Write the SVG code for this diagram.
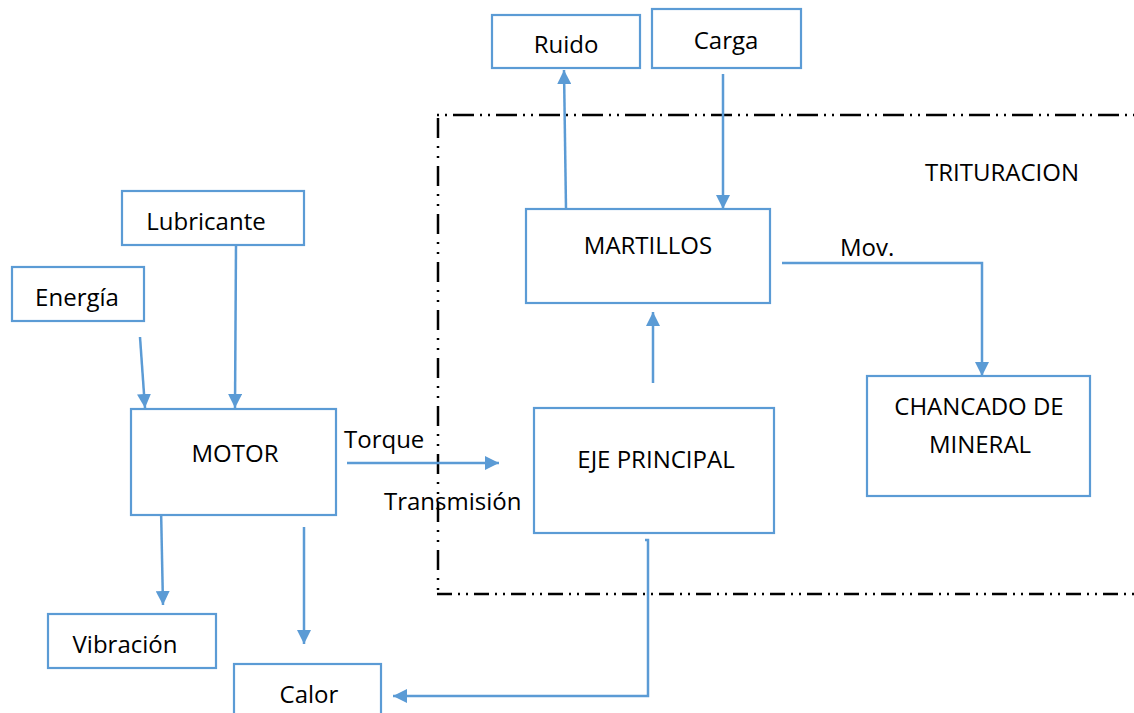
<svg xmlns="http://www.w3.org/2000/svg" width="1134" height="713" viewBox="0 0 1134 713">
  <style>
    .box { fill: #ffffff; stroke: #5B9BD5; stroke-width: 2.2; }
    .lbl { font-family: "Open Sans", "Liberation Sans", Arial, sans-serif; font-size: 24px; fill: #000000; text-anchor: middle; }
    .free { font-family: "Open Sans", "Liberation Sans", Arial, sans-serif; font-size: 24px; fill: #000000; }
    .link { fill: none; stroke: #5B9BD5; stroke-width: 2.5; }
    .frame { fill: none; stroke: #000000; stroke-width: 2.5; }
  </style>
  <defs>
    <marker id="arrow" viewBox="0 0 14 14" refX="14" refY="7" markerWidth="14" markerHeight="14" markerUnits="userSpaceOnUse" orient="auto">
      <path d="M0,0 L14,7 L0,14 Z" fill="#5B9BD5"/>
    </marker>
  </defs>

  <rect width="1134" height="713" fill="#ffffff"/>

  <!-- TRITURACION boundary (dash-dot-dot) -->
  <g id="boundary">
    <line class="frame" x1="437" y1="115" x2="1134" y2="115" stroke-dasharray="2 6 2 6 21 6"/>
    <line class="frame" x1="438" y1="118" x2="438" y2="594" stroke-dasharray="20 8 2 8 2 8"/>
    <line class="frame" x1="437" y1="594" x2="1134" y2="594" stroke-dasharray="15 6 2 6 2 6"/>
    <text class="free" x="925" y="181">TRITURACION</text>
  </g>

  <!-- connectors -->
  <g id="connectors">
    <line class="link" x1="140" y1="337" x2="145" y2="408" marker-end="url(#arrow)"/>
    <line class="link" x1="236" y1="245" x2="235" y2="408" marker-end="url(#arrow)"/>
    <line class="link" x1="161" y1="508" x2="163" y2="605" marker-end="url(#arrow)"/>
    <line class="link" x1="304" y1="527" x2="304" y2="644" marker-end="url(#arrow)"/>
    <line class="link" x1="347" y1="463" x2="499" y2="463" marker-end="url(#arrow)"/>
    <path class="link" d="M645,540 H648 V696 H393" marker-end="url(#arrow)"/>
    <line class="link" x1="653" y1="383" x2="653" y2="312" marker-end="url(#arrow)"/>
    <line class="link" x1="566" y1="209" x2="564" y2="70" marker-end="url(#arrow)"/>
    <line class="link" x1="723" y1="74" x2="723" y2="209" marker-end="url(#arrow)"/>
    <path class="link" d="M782,263 H982 V376" marker-end="url(#arrow)"/>
    <text class="free" x="344" y="448">Torque</text>
    <text class="free" x="384" y="510">Transmisión</text>
    <text class="free" x="840" y="256">Mov.</text>
  </g>

  <g id="ruido">
    <rect class="box" x="492" y="15" width="148" height="53"/>
    <text class="lbl" x="566" y="53">Ruido</text>
  </g>
  <g id="carga">
    <rect class="box" x="652" y="9" width="149" height="59"/>
    <text class="lbl" x="726" y="49">Carga</text>
  </g>
  <g id="lubricante">
    <rect class="box" x="122" y="191" width="182" height="54"/>
    <text class="lbl" x="206" y="230">Lubricante</text>
  </g>
  <g id="energia">
    <rect class="box" x="12" y="267" width="132" height="54"/>
    <text class="lbl" x="77" y="306">Energía</text>
  </g>
  <g id="motor">
    <rect class="box" x="131" y="409" width="205" height="106"/>
    <text class="lbl" x="235" y="462">MOTOR</text>
  </g>
  <g id="vibracion">
    <rect class="box" x="48" y="614" width="168" height="54"/>
    <text class="lbl" x="125" y="653">Vibración</text>
  </g>
  <g id="calor">
    <rect class="box" x="234" y="664" width="147" height="60"/>
    <text class="lbl" x="309" y="703">Calor</text>
  </g>
  <g id="martillos">
    <rect class="box" x="526" y="209" width="244" height="94"/>
    <text class="lbl" x="648" y="254">MARTILLOS</text>
  </g>
  <g id="eje-principal">
    <rect class="box" x="534" y="408" width="240" height="125"/>
    <text class="lbl" x="656" y="468">EJE PRINCIPAL</text>
  </g>
  <g id="chancado">
    <rect class="box" x="867" y="376" width="223" height="120"/>
    <text class="lbl" x="979" y="415">CHANCADO DE</text>
    <text class="lbl" x="980" y="453">MINERAL</text>
  </g>
</svg>
